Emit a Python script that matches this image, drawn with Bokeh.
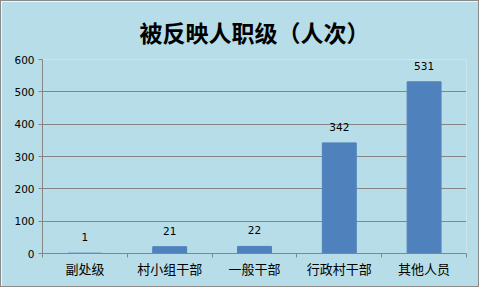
from bokeh.plotting import figure
from bokeh.models import (FactorRange, Range1d, LinearAxis, CategoricalAxis, FixedTicker,
                          ColumnDataSource, Title)
from bokeh.core.properties import value
from bokeh.embed import file_html
from bokeh.resources import INLINE

categories = ["副处级", "村小组干部", "一般干部", "行政村干部", "其他人员"]
counts = [1, 21, 22, 342, 531]
labels = [str(c) for c in counts]
y_ticks = [0, 100, 200, 300, 400, 500, 600]
title_text = "被反映人职级（人次）"

BG = "#B7DDE8"
GRID = "#868686"
BAR = "#4F81BD"

src = ColumnDataSource(dict(cat=categories, v=counts, lab=labels))

p = figure(width=479, height=287, x_range=FactorRange(*categories), y_range=Range1d(0, 600),
           output_backend="svg", toolbar_location=None, x_axis_location=None,
           y_axis_location=None, min_border_left=41, min_border_right=14,
           min_border_top=56, min_border_bottom=35)
p.background_fill_color = BG
p.border_fill_color = BG
p.outline_line_color = None
p.styles = {"border": "1px solid #8a8a8a"}

t = Title(text=title_text, align="center", text_font="Noto Sans CJK SC",
          text_font_size="23px", text_font_style="bold", text_color="#000000",
          standoff=22, offset=-18)
p.add_layout(t, "above")

p.vbar(x="cat", top="v", width=0.4, source=src, color=BAR)
p.text(x="cat", y="v", text="lab", source=src, text_align="center",
       text_baseline="middle", y_offset=-16, text_font=value("DejaVu Sans"),
       text_font_size="10.5px", text_color="#000000")

# y axis
ya = LinearAxis(ticker=FixedTicker(ticks=y_ticks))
ya.axis_line_color = GRID
ya.major_tick_line_color = GRID
ya.major_tick_out = 4
ya.major_tick_in = 0
ya.minor_tick_line_color = None
ya.major_label_text_font = "DejaVu Sans"
ya.major_label_text_font_size = "10.5px"
ya.major_label_text_color = "#000000"
ya.major_label_standoff = 4
p.add_layout(ya, "left")

# boundary ticks axis (category edges in synthetic coordinates)
edges = list(range(len(categories) + 1))
ea = LinearAxis(ticker=FixedTicker(ticks=edges))
ea.axis_line_color = GRID
ea.major_tick_line_color = GRID
ea.major_tick_out = 4
ea.major_tick_in = 0
ea.minor_tick_line_color = None
ea.major_label_overrides = {e: "" for e in edges}
ea.major_label_text_font_size = "1px"
ea.major_label_standoff = 0
p.add_layout(ea, "below")

xa = CategoricalAxis()
xa.axis_line_color = None
xa.major_tick_line_color = None
xa.major_tick_out = 0
xa.major_label_text_font = "Noto Sans CJK SC"
xa.major_label_text_font_size = "13px"
xa.major_label_text_color = "#000000"
xa.major_label_standoff = 1
p.add_layout(xa, "below")

p.ygrid.ticker = FixedTicker(ticks=y_ticks)
p.ygrid.grid_line_color = GRID
p.xgrid.grid_line_color = None

open("out.html", "w").write(file_html(p, INLINE))
